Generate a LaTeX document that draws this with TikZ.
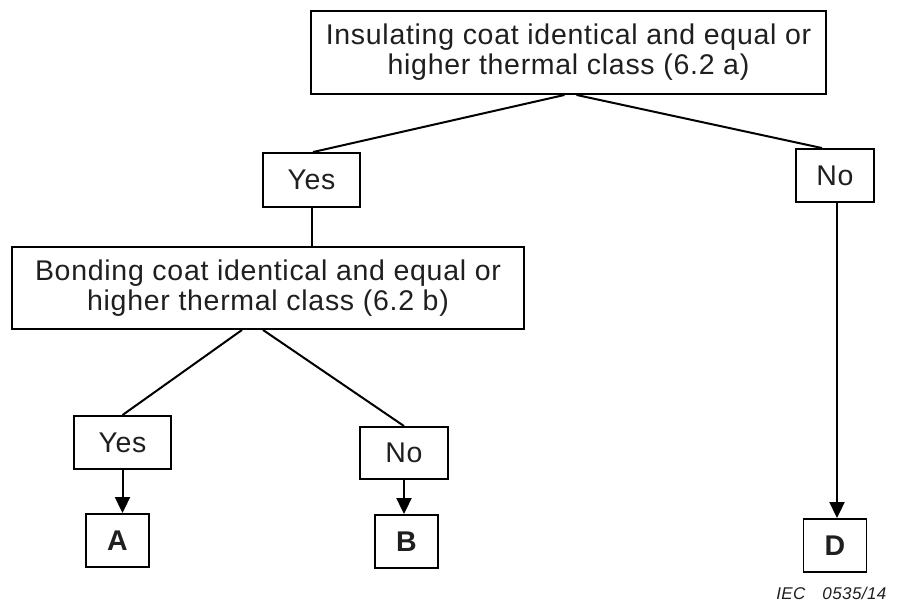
\documentclass[tikz,border=0pt]{standalone}
\usepackage{fontspec}
\setmainfont[LetterSpace=2.5]{Liberation Sans}
\usetikzlibrary{arrows.meta,calc}
\begin{document}
\begin{tikzpicture}[x=1pt,y=-1pt,line join=miter,>={Triangle[length=16pt,width=15pt]}]
  \tikzset{
    box/.style={draw,line width=1.9pt,inner sep=0pt,align=center,text=black!88,
      font=\fontsize{28.5}{30}\selectfont},
    letter/.style={box,minimum width=63pt,minimum height=53pt,font=\fontsize{28.5}{30}\selectfont\bfseries},
    link/.style={line width=2pt}
  }
  \useasboundingbox (0,0) rectangle (903,608);

  % questions
  \node [box,minimum width=515pt,minimum height=83pt] (ins) at (568.5,52.5)
    {Insulating coat identical and equal or\\higher thermal class (6.2 a)};
  \node [box,minimum width=512pt,minimum height=82pt] (bond) at (268,288)
    {Bonding coat identical and equal or\\higher thermal class (6.2 b)};

  % answers
  \node [box,minimum width=97pt,minimum height=54pt] (yes1) at (311.5,180) {Yes};
  \node [box,minimum width=78pt,minimum height=53pt] (no1) at (835,175.5) {No};
  \node [box,minimum width=97pt,minimum height=53pt] (yes2) at (122.5,442.5) {Yes};
  \node [box,minimum width=88pt,minimum height=52pt] (no2) at (404,453) {No};

  % results
  \node [letter] (A) at (117.5,540.5) {A};
  \node [letter] (B) at (406.5,541.5) {B};
  \node [letter] (D) at (835,545.5) {D};

  \draw [link] ($(ins.south)+(-4,0)$) -- ($(yes1.north)+(1.5,0)$);
  \draw [link] ($(ins.south)+(8,0)$) -- ($(no1.north)+(-13,0)$);
  \draw [link] (yes1.south) -- (yes1.south |- bond.north);
  \draw [link] ($(bond.south)+(-26,0)$) -- (yes2.north);
  \draw [link] ($(bond.south)+(-5,0)$) -- (no2.north);
  \draw [link,->] (yes2.south) -- (yes2.south |- A.north);
  \draw [link,->] (no2.south) -- (no2.south |- B.north);
  \draw [link,->] ($(no1.south)+(2,0)$) -- ($(D.north)+(2,0)$);

  \node [anchor=base east,font=\fontsize{17}{20}\selectfont\itshape,text=black!88] (iec) at (890,599)
    {IEC\quad 0535/14};
\end{tikzpicture}
\end{document}
